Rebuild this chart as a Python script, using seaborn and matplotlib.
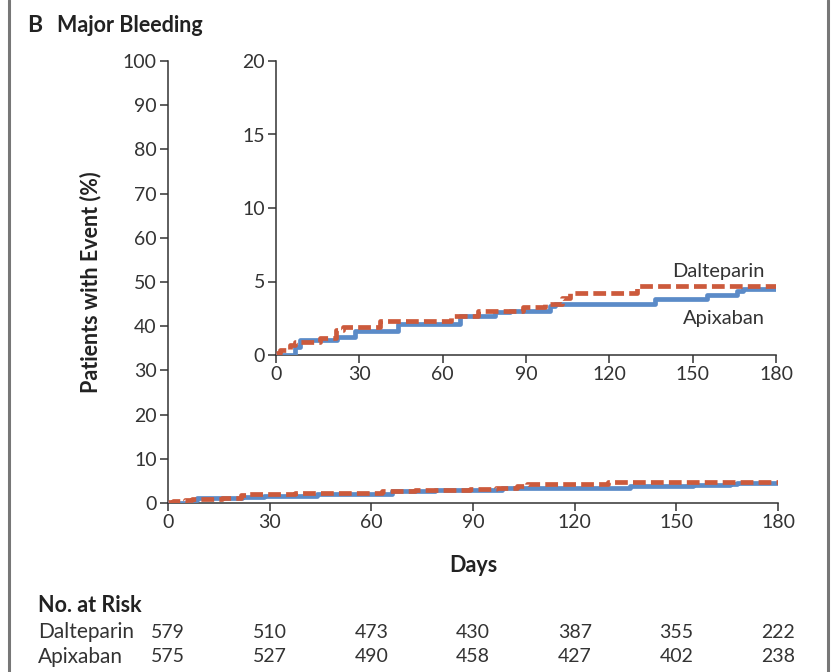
import matplotlib
matplotlib.use('Agg')
import matplotlib.pyplot as plt
import matplotlib.transforms as mtransforms
from matplotlib.lines import Line2D
import pandas as pd
import seaborn as sns

sns.set_style('ticks')
plt.rcParams['font.family'] = ['Lato', 'DejaVu Sans']

# Kaplan-Meier style cumulative incidence (%)
apix_days = [0, 6.8, 8.6, 21.8, 28.4, 44, 66.2, 78.8, 84.2, 98.6, 100.4,
             136.4, 155, 165.8, 168, 180]
apix_pct = [0, 0.57, 1.02, 1.25, 1.65, 2.1, 2.65, 2.9, 3.0, 3.3, 3.5,
            3.78, 4.08, 4.35, 4.49, 4.49]

dalt_days = [0, 1.5, 5, 7, 15.8, 21.5, 24, 37.4, 63, 72.8, 89, 96.8,
             103, 106, 129.8, 180]
dalt_pct = [0.17, 0.34, 0.68, 0.9, 1.18, 1.7, 1.93, 2.3, 2.65, 2.98, 3.24,
            3.5, 3.9, 4.24, 4.7, 4.7]

risk_days = [0, 30, 60, 90, 120, 150, 180]
risk_dalt = [579, 510, 473, 430, 387, 355, 222]
risk_apix = [575, 527, 490, 458, 427, 402, 238]

BLUE = '#5b8bc8'
RED = '#cc5a3c'
DARK = '#333333'
INK = '#222222'

apix = pd.DataFrame({'day': apix_days, 'pct': apix_pct})
dalt = pd.DataFrame({'day': dalt_days, 'pct': dalt_pct})

W, H = 831, 672
fig = plt.figure(figsize=(W / 100, H / 100), dpi=100)


def px_box(left, right, top, bottom):
    return [left / W, 1 - bottom / H, (right - left) / W, (bottom - top) / H]


def draw_curves(ax):
    sns.lineplot(data=apix, x='day', y='pct', ax=ax, color=BLUE, lw=3.4,
                 drawstyle='steps-post', errorbar=None, zorder=3)
    sns.lineplot(data=dalt, x='day', y='pct', ax=ax, color=RED, lw=3.4,
                 drawstyle='steps-post', errorbar=None, zorder=4,
                 linestyle=(0, (2.7, 1.1)))


def style_axes(ax):
    sns.despine(ax=ax)
    for s in ('left', 'bottom'):
        ax.spines[s].set_color(DARK)
        ax.spines[s].set_linewidth(1.1)
    ax.tick_params(direction='out', length=6, width=1.1, color=DARK,
                   labelcolor=DARK, labelsize=14, pad=2)
    ax.set_xlabel('')
    ax.set_ylabel('')
    ax.set_facecolor('none')


# main axes
ax = fig.add_axes(px_box(168, 778, 61, 503))
draw_curves(ax)
ax.set_xlim(0, 180)
ax.set_ylim(0, 100)
ax.set_xticks(risk_days)
ax.set_yticks(range(0, 101, 10))
style_axes(ax)

# inset
axi = fig.add_axes(px_box(276, 776, 61, 355))
draw_curves(axi)
axi.set_xlim(0, 180)
axi.set_ylim(0, 20)
axi.set_xticks(risk_days)
axi.set_yticks([0, 5, 10, 15, 20])
style_axes(axi)
axi.text(176, 5.7, 'Dalteparin', ha='right', va='center', fontsize=14.5,
         color=DARK)
axi.text(176, 2.5, 'Apixaban', ha='right', va='center', fontsize=14.5,
         color=DARK)

# titles and labels
fig.text(27 / W, 1 - 25 / H, 'B', fontsize=16.5, fontweight='bold',
         va='center', color=INK)
fig.text(57 / W, 1 - 25 / H, 'Major Bleeding', fontsize=15.5,
         fontweight='bold', va='center', color=INK)
fig.text(91 / W, 1 - 282 / H, 'Patients with Event (%)', rotation=90,
         fontsize=15.5, fontweight='bold', ha='center', va='center',
         color=INK)
fig.text(473 / W, 1 - 565 / H, 'Days', fontsize=15.5, fontweight='bold',
         ha='center', va='center', color=INK)

# number at risk table
fig.text(38 / W, 1 - 605 / H, 'No. at Risk', fontsize=15.5,
         fontweight='bold', va='center', color=INK)
trans = mtransforms.blended_transform_factory(ax.transData, fig.transFigure)
for name, counts, ypx in (('Dalteparin', risk_dalt, 632),
                          ('Apixaban', risk_apix, 657)):
    fig.text(38 / W, 1 - ypx / H, name, fontsize=15, va='center',
             color=DARK)
    for d, n in zip(risk_days, counts):
        ax.text(d, 1 - ypx / H, str(n), transform=trans, fontsize=14,
                ha='center', va='center', color=DARK, clip_on=False)

# panel frame lines
for xpx in (9, 828):
    fig.add_artist(Line2D([xpx / W, xpx / W], [0, 1], color='#777777',
                          lw=2.2, transform=fig.transFigure))

fig.savefig('out.png', dpi=100)
